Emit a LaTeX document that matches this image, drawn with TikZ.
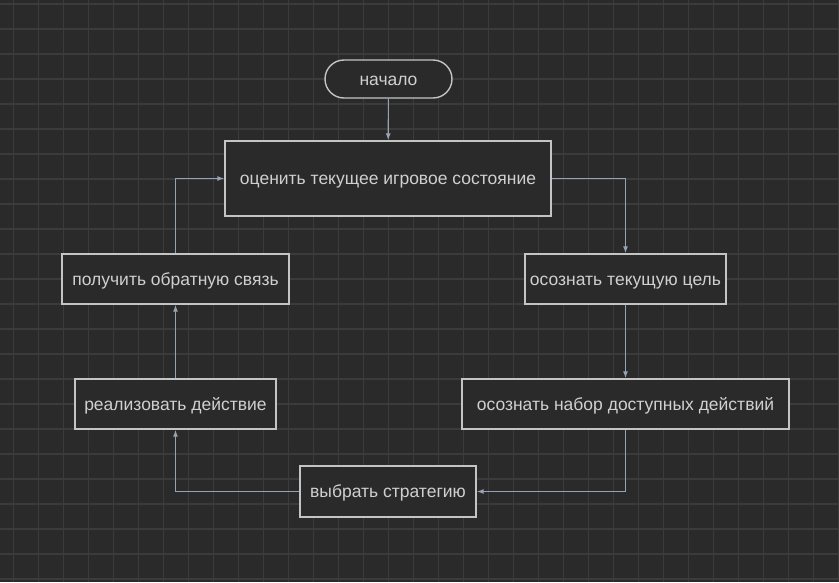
\documentclass[tikz,border=0pt]{standalone}
\usepackage{fontspec}
\setmainfont{Liberation Sans}
\usetikzlibrary{arrows.meta}
\definecolor{bgcol}{HTML}{2A2A2A}
\definecolor{gridcol}{HTML}{3B3B3B}
\definecolor{boxcol}{HTML}{C4C4C4}
\definecolor{txtcol}{HTML}{D0D0D0}
\definecolor{arrcol}{HTML}{95A3B3}

\begin{document}
\begin{tikzpicture}[x=1pt,y=-1pt,
    box/.style={draw=boxcol, line width=1.4pt, fill=bgcol, text=txtcol,
        font=\fontsize{17.5}{20}\selectfont, inner sep=0pt, anchor=center,
        text height=13pt, text depth=1pt},
    flow/.style={draw=arrcol, line width=1.1pt, -{Latex[length=7pt,width=5pt]}}]

    % background and grid
    \fill[bgcol] (0,0) rectangle (839,582);
    \useasboundingbox (0,0) rectangle (839,582);
    \foreach \x in {0,...,33}
        \draw[gridcol, line width=1.1pt] (13.3+25*\x,0) -- (13.3+25*\x,582);
    \foreach \y in {0,...,23}
        \draw[gridcol, line width=1.1pt] (0,4+25*\y) -- (839,4+25*\y);

    % nodes
    \node[box, rounded corners=19pt, minimum width=127pt, minimum height=38pt] (start) at (388.5,79) {начало};
    \node[box, minimum width=326pt, minimum height=75pt] (assess) at (388,178.5) {оценить текущее игровое состояние};
    \node[box, minimum width=201pt, minimum height=50pt] (goal) at (625.5,279) {осознать текущую цель};
    \node[box, minimum width=327pt, minimum height=50pt] (actions) at (625.5,404) {осознать набор доступных действий};
    \node[box, minimum width=176pt, minimum height=51pt] (strategy) at (388,491.5) {выбрать стратегию};
    \node[box, minimum width=201pt, minimum height=50pt] (act) at (175.5,404) {реализовать действие};
    \node[box, minimum width=227pt, minimum height=50pt] (feedback) at (175.5,279) {получить обратную связь};

    % connectors
    \draw[flow] (start) -- (assess);
    \draw[flow] (assess.east) -| (goal.north);
    \draw[flow] (goal) -- (actions);
    \draw[flow] (actions.south) |- (strategy.east);
    \draw[flow] (strategy.west) -| (act.south);
    \draw[flow] (act) -- (feedback);
    \draw[flow] (feedback.north) |- (assess.west);

\end{tikzpicture}
\end{document}
